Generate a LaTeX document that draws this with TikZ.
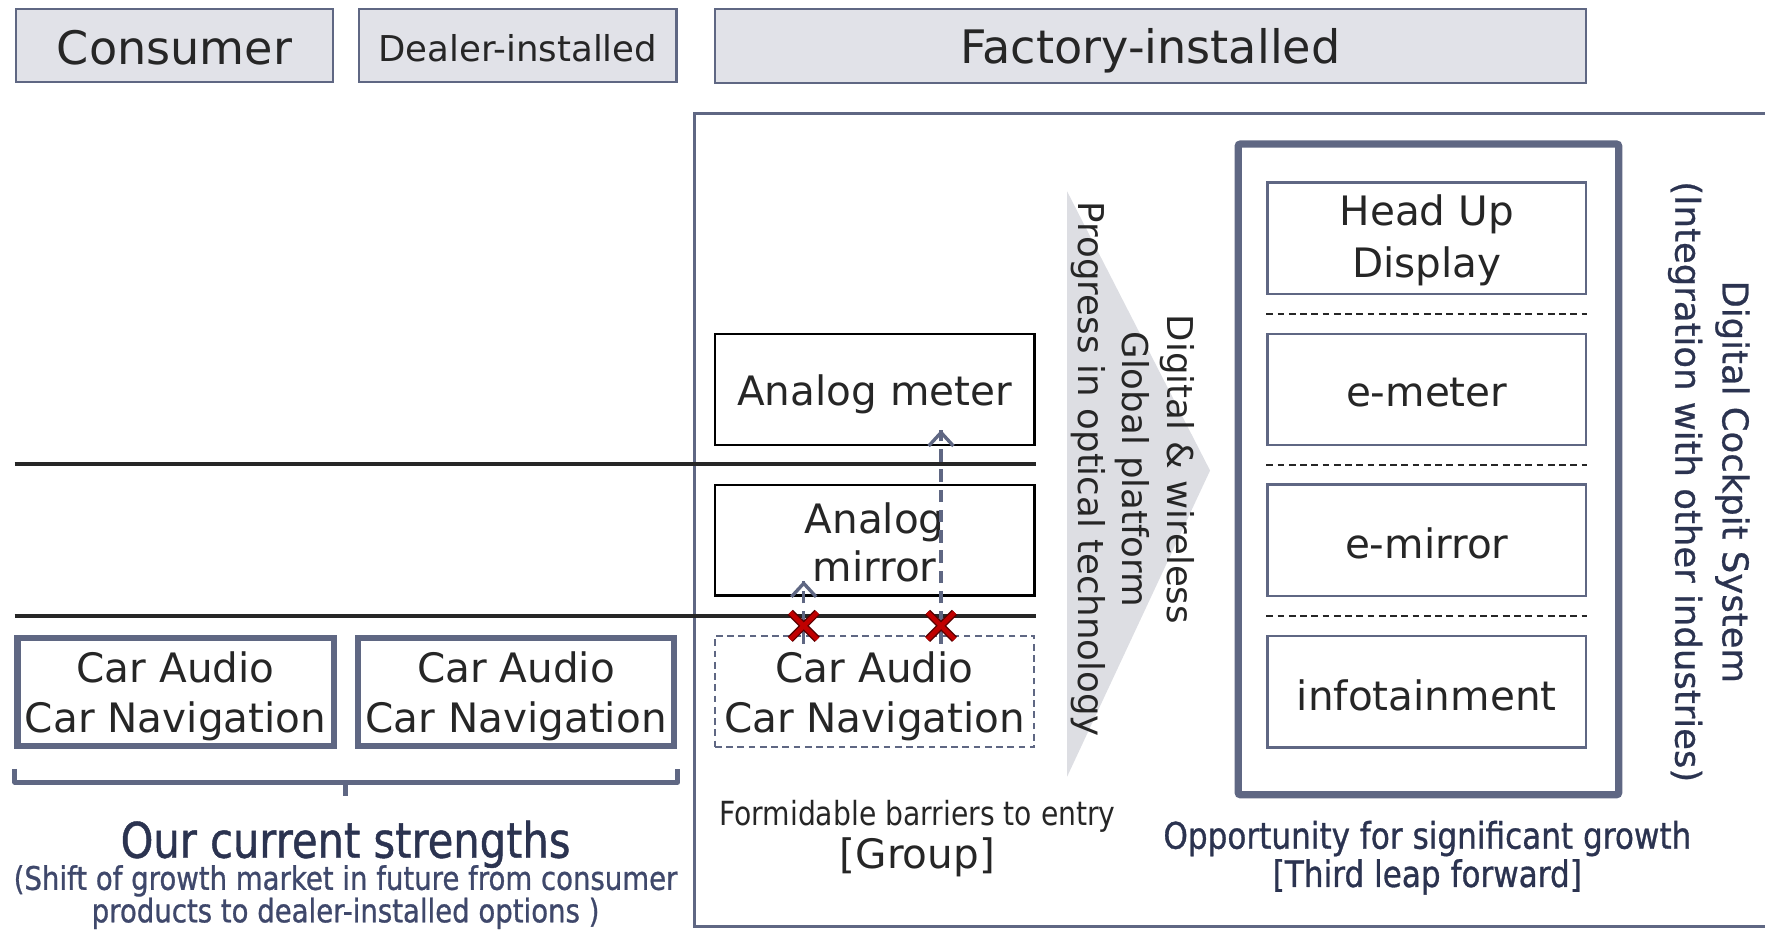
\documentclass[tikz,border=0pt]{standalone}
\usepackage{fontspec}
\setmainfont{DejaVu Sans}
\newfontfamily\condf[FakeStretch=0.85]{DejaVu Sans}
\newfontfamily\condb[FakeStretch=0.85,FakeBold=0.9]{DejaVu Sans}
\newfontfamily\regb[FakeBold=0.7]{DejaVu Sans}
\usetikzlibrary{arrows.meta}
\definecolor{fb}{HTML}{5F6783}
\definecolor{headfill}{HTML}{E1E2E8}
\definecolor{chevfill}{HTML}{DDDEE3}
\definecolor{txt}{HTML}{262626}
\definecolor{navy}{HTML}{2B3350}
\definecolor{navyb}{HTML}{3F486B}
\definecolor{xred}{HTML}{C00000}
\definecolor{xdark}{HTML}{5A0000}
\newcommand{\fs}[2]{\fontsize{#1}{#2}\selectfont}
\tikzset{
  headbox/.style={draw=fb,line width=2pt,fill=headfill,inner sep=0pt},
  leftbox/.style={draw=fb,line width=5.5pt,inner sep=0pt,minimum width=281pt,minimum height=96pt},
  midbox/.style={draw=black,line width=2pt,inner sep=0pt,minimum width=284pt,minimum height=98pt},
  dashbox/.style={draw=fb,line width=1.8pt,dash pattern=on 6pt off 4pt,inner sep=0pt,minimum width=284pt,minimum height=99pt},
  rightbox/.style={draw=fb,line width=2.2pt,inner sep=0pt,minimum width=283pt,minimum height=99pt},
  boxtext/.style={inner sep=0pt,align=center,text=txt,font=\fs{36}{45}},
  sep/.style={draw=txt,line width=1.5pt,dash pattern=on 6pt off 4pt},
  hline/.style={draw=txt,line width=3.5pt},
  upline/.style={draw=fb,line width=3pt,dash pattern=on 11pt off 7pt},
  uptip/.style={draw=fb,line width=3pt,-{Straight Barb[length=12pt,width=22pt,line width=3pt]}},
}
\begin{document}
\begin{tikzpicture}[x=1pt,y=-1pt]
\useasboundingbox (0,0) rectangle (1568,826);
% header boxes
\node[headbox,minimum width=282pt,minimum height=65pt] (cons) at (155,40.5) {};
\node[boxtext,font=\fs{41}{49}] (consT) at ([yshift=-2pt]cons.center) {Consumer};
\node[headbox,minimum width=282pt,minimum height=65pt] (deal) at (460,40.5) {};
\node[boxtext,font=\fs{31.6}{38}] (dealT) at ([yshift=-2pt]deal.center) {Dealer-installed};
\node[headbox,minimum width=774pt,minimum height=66pt] (fact) at (1022,41) {};
\node[boxtext,font=\fs{41}{49}] (factT) at ([yshift=-4pt]fact.center) {Factory-installed};
% outer frame
\draw[fb,line width=3.2pt] (617,101) rectangle (1585,823);
% horizontal lines
\draw[hline] (13,412) -- (920,412);
\draw[hline] (13,547) -- (920,547);
% left boxes
\node[leftbox] (l1) at (156,614.5) {};
\node[boxtext] (l1T) at ([yshift=-4pt]l1.center) {Car Audio\\Car Navigation};
\node[leftbox] (l2) at (458.5,614.5) {};
\node[boxtext] (l2T) at ([yshift=-4pt]l2.center) {Car Audio\\Car Navigation};
% brace
\draw[fb,line width=4pt,line join=round] (13,683) -- (13,695) -- (602,695) -- (602,683);
\draw[fb,line width=4pt] (307,695) -- (307,707);
% left texts
\node[text=navy,font=\condb\fs{43.5}{50},inner sep=0pt] (strength) at (307,750) {Our current strengths};
\node[text=navyb,font=\condb\fs{28.8}{27.5},align=center,inner sep=0pt] (shift) at (307,797) {(Shift of growth market in future from consumer\\products to dealer-installed options )};
% middle boxes
\node[midbox] (ameter) at (777,346) {};
\node[boxtext] (ameterT) at ([yshift=-4pt]ameter.center) {Analog meter};
\node[midbox] (amirror) at (777,480) {};
\node[boxtext,font=\fs{36}{43}] (amirrorT) at ([yshift=-2pt]amirror.center) {Analog\\mirror};
\node[dashbox] (cn) at (777,614.5) {};
\node[boxtext] (cnT) at ([yshift=-4pt]cn.center) {Car Audio\\Car Navigation};
% arrows
\coordinate (a1s) at (714,572);
\coordinate (a1e) at (714,516);
\coordinate (a2s) at (836,572);
\coordinate (a2e) at (836,382);
\draw[upline] (a1s) -- (a1e);
\draw[upline] (a2s) -- (a2e);
\draw[uptip] ([yshift=-2pt]a1e) -- (a1e);
\draw[uptip] ([yshift=-2pt]a2e) -- (a2e);
% red crosses
\foreach \cx in {714,836}{
  \draw[xdark,line width=6.5pt] (\cx-12,544) -- (\cx+12,568) (\cx-12,568) -- (\cx+12,544);
  \draw[xred,line width=4pt] (\cx-12,544) -- (\cx+12,568) (\cx-12,568) -- (\cx+12,544);
}
% chevron
\fill[chevfill] (948,170) -- (1075,418) -- (948,690) -- cycle;
\node[rotate=-90,align=center,text=txt,font=\fs{31.6}{39.5},inner sep=0pt] (prog) at (1006,417) {Digital \& wireless\\Global platform\\Progress in optical technology};
% bottom middle texts
\node[text=txt,font=\condf\fs{29.5}{35},inner sep=0pt] (formid) at (815,725) {Formidable barriers to entry};
\node[text=txt,font=\fs{36}{40},inner sep=0pt] (group) at (815,762) {[Group]};
% right box
\draw[fb,line width=6.5pt,rounded corners=2pt] (1100,128) rectangle (1438,706);
\node[rightbox] (hud) at (1267.5,211.5) {};
\node[boxtext,font=\fs{36}{46}] (hudT) at ([yshift=-2pt]hud.center) {Head Up\\Display};
\node[rightbox] (emeter) at (1267.5,346) {};
\node[boxtext] (emeterT) at ([yshift=-3pt]emeter.center) {e-meter};
\node[rightbox] (emirror) at (1267.5,480) {};
\node[boxtext] (emirrorT) at ([yshift=-3pt]emirror.center) {e-mirror};
\node[rightbox] (info) at (1267.5,614.5) {};
\node[boxtext] (infoT) at ([yshift=-3pt]info.center) {infotainment};
\draw[sep] (1125,279) -- (1410,279);
\draw[sep] (1125,413) -- (1410,413);
\draw[sep] (1125,547) -- (1410,547);
% right rotated text
\node[rotate=-90,align=center,text=navy,font=\regb\fs{31.5}{42},inner sep=0pt] (dcs) at (1518,428) {Digital Cockpit System\\(Integration with other industries)};
% bottom right text
\node[text=navy,font=\condb\fs{32.5}{34},align=center,inner sep=0pt] (opp) at (1268,762) {Opportunity for significant growth\\{}[Third leap forward]};
\end{tikzpicture}
\end{document}
